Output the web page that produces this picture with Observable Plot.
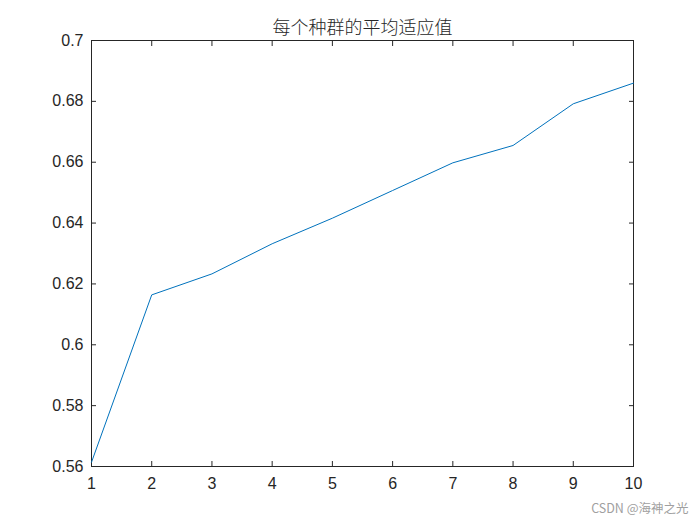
<!DOCTYPE html>
<html>
<head>
<meta charset="utf-8">
<script src="https://cdn.jsdelivr.net/npm/d3@7"></script>
<script src="https://cdn.jsdelivr.net/npm/@observablehq/plot@0.6"></script>
<style>
html,body{margin:0;padding:0;background:#fff;}
</style>
</head>
<body>
<div id="chart"></div>
<script>
const generations = [1, 2, 3, 4, 5, 6, 7, 8, 9, 10];
const meanFitness = [0.5614, 0.6164, 0.6233, 0.6332, 0.6416, 0.6507, 0.6598, 0.6655, 0.6792, 0.6860];
const xTicks = [1, 2, 3, 4, 5, 6, 7, 8, 9, 10];
const yTicks = [0.56, 0.58, 0.6, 0.62, 0.64, 0.66, 0.68, 0.7];
const titleText = "每个种群的平均适应值";
const watermark = "CSDN @海神之光";

const data = generations.map((g, i) => ({g, v: meanFitness[i]}));
const axisColor = "#262626";
const fontFam = "'Liberation Sans', Arial, sans-serif";

const chart = Plot.plot({
  width: 700,
  height: 525,
  marginLeft: 91,
  marginRight: 67,
  marginTop: 40,
  marginBottom: 59,
  style: {fontFamily: fontFam, background: "#fff", color: axisColor},
  x: {domain: [1, 10]},
  y: {domain: [0.56, 0.7]},
  marks: [
    Plot.frame({stroke: axisColor, strokeWidth: 1}),
    Plot.axisX(xTicks, {anchor: "bottom", tickSize: 0, tickPadding: 11, fontSize: 16, fill: axisColor, label: null}),
    Plot.axisX(xTicks, {anchor: "bottom", tickSize: -5, stroke: axisColor, tickFormat: () => "", label: null}),
    Plot.axisX(xTicks, {anchor: "top", tickSize: -5, stroke: axisColor, tickFormat: () => "", label: null}),
    Plot.axisY(yTicks, {anchor: "left", tickSize: 0, tickPadding: 8, fontSize: 16, fill: axisColor, label: null, tickFormat: d => String(d)}),
    Plot.axisY(yTicks, {anchor: "left", tickSize: -5, stroke: axisColor, tickFormat: () => "", label: null}),
    Plot.axisY(yTicks, {anchor: "right", tickSize: -5, stroke: axisColor, tickFormat: () => "", label: null}),
    Plot.line(data, {x: "g", y: "v", stroke: "#0072BD", strokeWidth: 1}),
    Plot.text([titleText], {frameAnchor: "top", dy: -7, lineAnchor: "bottom", fontSize: 18, fill: axisColor, fontFamily: "'Noto Sans CJK SC', sans-serif", fontWeight: 300}),
    Plot.text([watermark], {frameAnchor: "bottom-right", dx: 55, dy: 46, textAnchor: "end", fontSize: 12.5, fill: "#a0a0a0", fontFamily: "'Noto Sans CJK SC', sans-serif"})
  ]
});
document.getElementById("chart").appendChild(chart);
</script>
</body>
</html>
